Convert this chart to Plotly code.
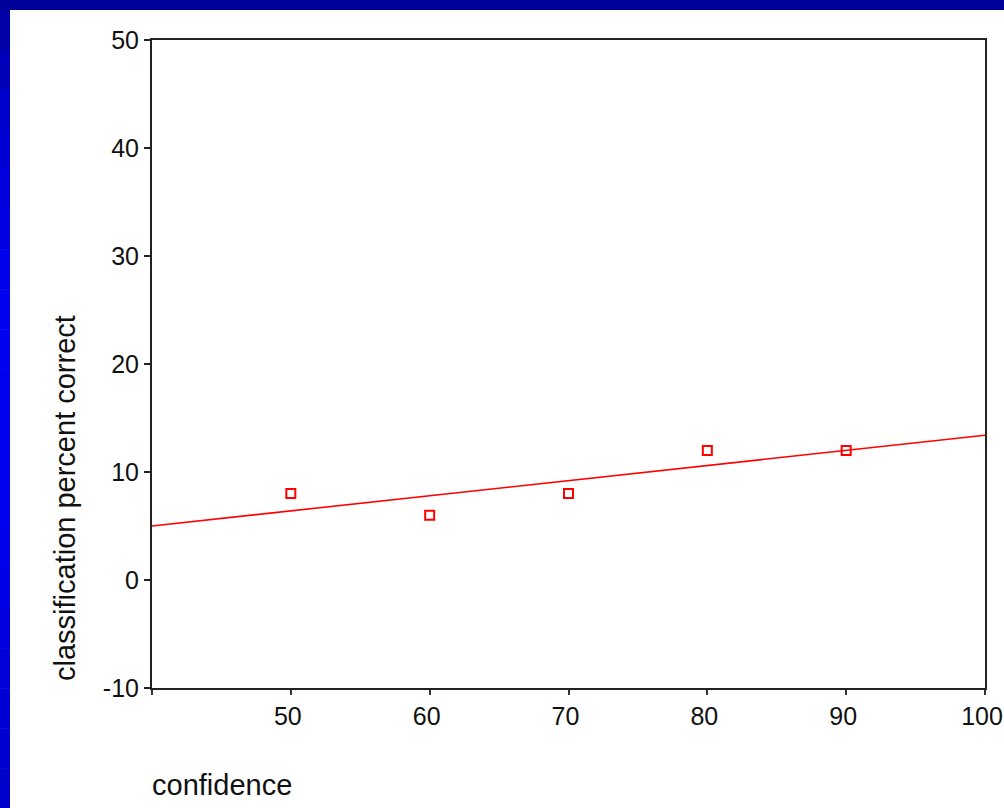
import numpy as np
import plotly.graph_objects as go

confidence = [50, 60, 70, 80, 90]
pct_correct = [8, 6, 8, 12, 12]

x_ticks = [40, 50, 60, 70, 80, 90, 100]
x_ticklabels = ["", "50", "60", "70", "80", "90", "100"]
y_ticks = [-10, 0, 10, 20, 30, 40, 50]
y_ticklabels = ["-10", "0", "10", "20", "30", "40", "50"]

slope, intercept = np.polyfit(confidence, pct_correct, 1)
fit_x = [40, 100]
fit_y = [intercept + slope * v for v in fit_x]

W, H = 1004, 808
L, R, T, B = 152, 19, 40, 120
pw, ph = W - L - R, H - T - B


def px2x(p):
    return (p - L) / pw


def py2y(p):
    return 1 - (p - T) / ph


fig = go.Figure()
fig.add_trace(go.Scatter(x=fit_x, y=fit_y, mode="lines",
                         line=dict(color="#ff0000", width=1.6),
                         showlegend=False, hoverinfo="skip"))
fig.add_trace(go.Scatter(x=confidence, y=pct_correct, mode="markers",
                         marker=dict(symbol="square-open", size=9, color="#ff0000",
                                     line=dict(width=2, color="#ff0000")),
                         showlegend=False))

shapes = []
shapes.append(dict(type="rect", xref="paper", yref="paper",
                   x0=px2x(0), x1=px2x(W), y0=py2y(10), y1=py2y(0),
                   fillcolor="#000099", line=dict(width=0), layer="below"))
n = 20


def blue_at(yp):
    stops = [(0, 0x99), (120, 0xD0), (300, 0xF0), (500, 0xF0), (808, 0xC8)]
    for (a, va), (b, vb) in zip(stops[:-1], stops[1:]):
        if a <= yp <= b:
            return int(va + (vb - va) * (yp - a) / (b - a))
    return 0xC8


for i in range(n):
    y0 = 10 + i * (H - 10) / n
    y1 = 10 + (i + 1) * (H - 10) / n
    v = blue_at((y0 + y1) / 2)
    shapes.append(dict(type="rect", xref="paper", yref="paper",
                       x0=px2x(0), x1=px2x(10), y0=py2y(y1 + 0.5), y1=py2y(y0),
                       fillcolor="#0000%02x" % v, line=dict(width=0), layer="below"))

tick_font = dict(family="Liberation Sans, Arial", size=25, color="#111111")
title_font = dict(family="Liberation Sans, Arial", size=29, color="#111111")

fig.update_layout(
    width=W, height=H,
    margin=dict(l=L, r=R, t=T, b=B),
    paper_bgcolor="white", plot_bgcolor="white",
    shapes=shapes,
    xaxis=dict(range=[40, 100], tickmode="array", tickvals=x_ticks, ticktext=x_ticklabels,
               showgrid=False, zeroline=False, showline=True, linecolor="#222222",
               linewidth=2, mirror=True, ticks="outside", ticklen=5, tickwidth=2,
               tickcolor="#333333", tickfont=tick_font, ticklabeloverflow="allow",
               ticklabelshift=-3, automargin=False),
    yaxis=dict(range=[-10, 50], tickmode="array", tickvals=y_ticks, ticktext=y_ticklabels,
               showgrid=False, zeroline=False, showline=True, linecolor="#222222",
               linewidth=2, mirror=True, ticks="outside", ticklen=6, tickwidth=2,
               tickcolor="#222222", tickfont=tick_font, automargin=False),
    annotations=[
        dict(text="confidence", xref="paper", yref="paper",
             x=px2x(150), y=py2y(785), xanchor="left", yanchor="middle",
             showarrow=False, font=title_font),
        dict(text="classification percent correct", xref="paper", yref="paper",
             x=px2x(65), y=py2y(498), xanchor="center", yanchor="middle",
             textangle=-90, showarrow=False, font=title_font),
    ],
)

fig.write_html("out.html", config={"displayModeBar": False},
               post_script=("document.documentElement.style.overflow='hidden';"
                            "document.body.style.margin='0';"
                            "document.body.style.overflow='hidden';"))
